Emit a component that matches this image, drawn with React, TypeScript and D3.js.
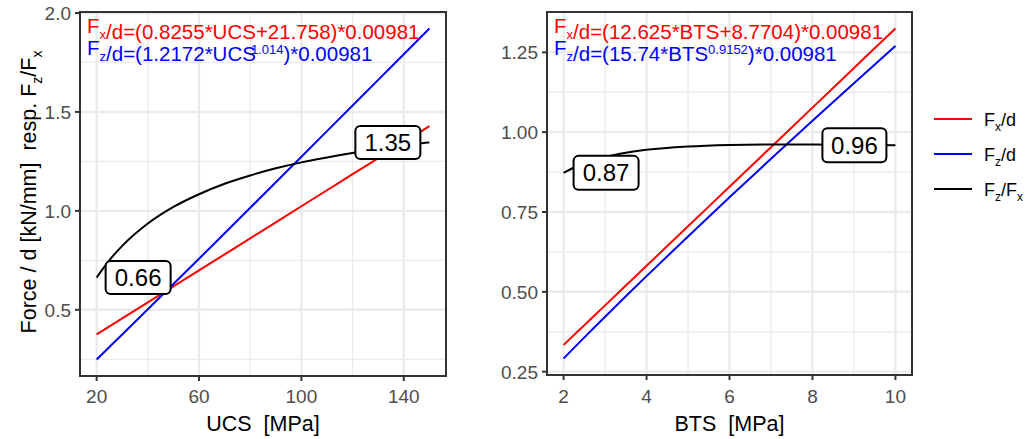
import React from 'react';
import * as d3 from 'd3';

// left panel: UCS
const ucs = [20, 25, 30, 40, 50, 60, 70, 80, 90, 100, 110, 120, 130, 140, 150];
const fxUcs = [0.3754, 0.4159, 0.4564, 0.5374, 0.6184, 0.6993, 0.7803, 0.8613, 0.9423, 1.0233, 1.1042, 1.1852, 1.2662, 1.3472, 1.4282];
const fzUcs = [0.2491, 0.3123, 0.3756, 0.503, 0.6307, 0.7582, 0.887, 1.0156, 1.1445, 1.2736, 1.4028, 1.5322, 1.6618, 1.7911, 1.9213];
const ratioUcs = [0.663, 0.751, 0.823, 0.936, 1.02, 1.084, 1.137, 1.179, 1.215, 1.245, 1.27, 1.293, 1.312, 1.33, 1.346];

// right panel: BTS
const bts = [2, 2.25, 2.5, 2.75, 3, 3.5, 4, 5, 6, 7, 8, 9, 10];
const fxBts = [0.3337, 0.3647, 0.3957, 0.4266, 0.4576, 0.5195, 0.5814, 0.7053, 0.8291, 0.953, 1.0768, 1.2007, 1.3246];
const fzBts = [0.2912, 0.3243, 0.3572, 0.3898, 0.422, 0.486, 0.5492, 0.6735, 0.7959, 0.9165, 1.0356, 1.1535, 1.2702];
const ratioBts = [0.8725, 0.8893, 0.9028, 0.9135, 0.9223, 0.9354, 0.9446, 0.9549, 0.9598, 0.9616, 0.9617, 0.9606, 0.959];

const ucsTicks = [20, 60, 100, 140];
const ucsMinor = [40, 80, 120];
const ucsYTicks = [0.5, 1.0, 1.5, 2.0];
const ucsYMinor = [0.25, 0.75, 1.25, 1.75];
const btsTicks = [2, 4, 6, 8, 10];
const btsMinor = [3, 5, 7, 9];
const btsYTicks = [0.25, 0.5, 0.75, 1.0, 1.25];
const btsYMinor = [0.375, 0.625, 0.875, 1.125];

const RED = '#FF0000';
const BLUE = '#0000FF';
const FONT = '"Liberation Sans", Arial, sans-serif';

type PanelProps = {
  x0: number; x1: number; y0: number; y1: number;
  xDom: [number, number]; yDom: [number, number];
  xs: number[]; fx: number[]; fz: number[]; ratio: number[];
  xTicks: number[]; xMinor: number[]; yTicks: number[]; yMinor: number[];
  yFmt: (v: number) => string; xTitle: string;
  eqX: React.ReactNode; eqZ: React.ReactNode;
  labStart: { dx: number; w: number; h: number };
  labEnd: { dx: number; w: number; h: number };
};

function Label({ x, y, w, h, text }: { x: number; y: number; w: number; h: number; text: string }) {
  return (
    <g>
      <rect x={x} y={y - h / 2} width={w} height={h} rx={5} fill="white" stroke="black" strokeWidth={2} />
      <text x={x + w / 2} y={y + 8.5} textAnchor="middle" fontSize={24} fill="black">{text}</text>
    </g>
  );
}

function Panel(p: PanelProps) {
  const x = d3.scaleLinear().domain(p.xDom).range([p.x0, p.x1]);
  const y = d3.scaleLinear().domain(p.yDom).range([p.y1, p.y0]);
  const mk = (vals: number[]) =>
    d3.line<number>().x((_, i) => x(p.xs[i])).y(v => y(v)).curve(d3.curveMonotoneX)(vals) || '';
  const n = p.xs.length - 1;
  const sx = x(p.xs[0]), sy = y(p.ratio[0]);
  const ex = x(p.xs[n]), ey = y(p.ratio[n]);
  return (
    <g>
      <defs>
        <clipPath id={`clip${p.x0}`}>
          <rect x={p.x0} y={p.y0} width={p.x1 - p.x0} height={p.y1 - p.y0} />
        </clipPath>
      </defs>
      <rect x={p.x0} y={p.y0} width={p.x1 - p.x0} height={p.y1 - p.y0} fill="white" />
      <g clipPath={`url(#clip${p.x0})`}>
        {p.xMinor.map(t => <line key={'xm' + t} x1={x(t)} x2={x(t)} y1={p.y0} y2={p.y1} stroke="#EBEBEB" strokeWidth={1.3} />)}
        {p.yMinor.map(t => <line key={'ym' + t} x1={p.x0} x2={p.x1} y1={y(t)} y2={y(t)} stroke="#EBEBEB" strokeWidth={1.3} />)}
        {p.xTicks.map(t => <line key={'x' + t} x1={x(t)} x2={x(t)} y1={p.y0} y2={p.y1} stroke="#EBEBEB" strokeWidth={2.4} />)}
        {p.yTicks.map(t => <line key={'y' + t} x1={p.x0} x2={p.x1} y1={y(t)} y2={y(t)} stroke="#EBEBEB" strokeWidth={2.4} />)}
        <path d={mk(p.fx)} fill="none" stroke={RED} strokeWidth={2} />
        <path d={mk(p.fz)} fill="none" stroke={BLUE} strokeWidth={2} />
        <path d={mk(p.ratio)} fill="none" stroke="black" strokeWidth={2} />
      </g>
      <Label x={sx + p.labStart.dx} y={sy} w={p.labStart.w} h={p.labStart.h} text={d3.format('.2f')(p.ratio[0])} />
      <Label x={ex - p.labEnd.dx - p.labEnd.w} y={ey} w={p.labEnd.w} h={p.labEnd.h} text={d3.format('.2f')(p.ratio[n])} />
      <text x={p.x0 + 7} y={33} fontSize={20.5} fill={RED}>{p.eqX}</text>
      <text x={p.x0 + 7} y={55} fontSize={20.5} fill={BLUE}>{p.eqZ}</text>
      <rect x={p.x0} y={p.y0} width={p.x1 - p.x0} height={p.y1 - p.y0} fill="none" stroke="#333333" strokeWidth={2} />
      {p.xTicks.map(t => (
        <g key={'xt' + t}>
          <line x1={x(t)} x2={x(t)} y1={p.y1 + 1} y2={p.y1 + 5} stroke="#333333" strokeWidth={2} />
          <text x={x(t)} y={403} textAnchor="middle" fontSize={19} fill="#4D4D4D">{t}</text>
        </g>
      ))}
      {p.yTicks.map(t => (
        <g key={'yt' + t}>
          <line x1={p.x0 - 5} x2={p.x0 - 1} y1={y(t)} y2={y(t)} stroke="#333333" strokeWidth={2} />
          <text x={p.x0 - 9} y={y(t) + 7} textAnchor="end" fontSize={19} fill="#4D4D4D">{p.yFmt(t)}</text>
        </g>
      ))}
      <text x={(p.x0 + p.x1) / 2} y={431} textAnchor="middle" fontSize={21.5} fill="black" style={{ whiteSpace: 'pre' }}>{p.xTitle}</text>
    </g>
  );
}

const Sub = ({ c }: { c: string }) => (
  <>
    <tspan dy={6} fontSize={13}>{c}</tspan>
    <tspan dy={-6}>{''}</tspan>
  </>
);

export default function App() {
  const legend = [
    { color: RED, sub: 'x', rest: '/d' },
    { color: BLUE, sub: 'z', rest: '/d' },
    { color: 'black', sub: 'z', rest: '/F' },
  ];
  return (
    <svg width={1030} height={439} style={{ position: 'absolute', left: 0, top: 0, fontFamily: FONT }}>
      <rect width={1030} height={439} fill="white" />
      <Panel
        x0={80} x1={446} y0={12} y1={376}
        xDom={[13.5, 156.5]} yDom={[0.1655, 2.005]}
        xs={ucs} fx={fxUcs} fz={fzUcs} ratio={ratioUcs}
        xTicks={ucsTicks} xMinor={ucsMinor} yTicks={ucsYTicks} yMinor={ucsYMinor}
        yFmt={d3.format('.1f')} xTitle="UCS  [MPa]"
        eqX={<>F<Sub c="x" />/d=(0.8255*UCS+21.758)*0.00981</>}
        eqZ={<>F<Sub c="z" />/d=(1.2172*UCS<tspan dx={-5} dy={-7} fontSize={13}>1.014</tspan><tspan dy={7}>)*0.00981</tspan></>}
        labStart={{ dx: 9, w: 65, h: 33 }} labEnd={{ dx: 9, w: 65, h: 33 }}
      />
      <Panel
        x0={547} x1={912} y0={12} y1={375}
        xDom={[1.6, 10.4]} yDom={[0.2395, 1.3763]}
        xs={bts} fx={fxBts} fz={fzBts} ratio={ratioBts}
        xTicks={btsTicks} xMinor={btsMinor} yTicks={btsYTicks} yMinor={btsYMinor}
        yFmt={d3.format('.2f')} xTitle="BTS  [MPa]"
        eqX={<>F<Sub c="x" />/d=(12.625*BTS+8.7704)*0.00981</>}
        eqZ={<>F<Sub c="z" />/d=(15.74*BTS<tspan dy={-7} fontSize={13}>0.9152</tspan><tspan dy={7}>)*0.00981</tspan></>}
        labStart={{ dx: 10, w: 65, h: 34 }} labEnd={{ dx: 9, w: 64, h: 34 }}
      />
      <text transform="translate(36,192) rotate(-90)" textAnchor="middle" fontSize={21.5} fill="black" style={{ whiteSpace: 'pre' }}>
        {'Force / d [kN/mm]  resp. F'}<tspan dy={6} fontSize={14}>z</tspan><tspan dy={-6}>/F</tspan><tspan dy={6} fontSize={14}>x</tspan>
      </text>
      {legend.map((l, i) => (
        <g key={i}>
          <line x1={934} x2={972} y1={119 + i * 35} y2={119 + i * 35} stroke={l.color} strokeWidth={2} />
          <text x={984} y={126 + i * 35} fontSize={18} fill="black">
            F<tspan dy={5} fontSize={12}>{l.sub}</tspan><tspan dy={-5}>{l.rest}</tspan>
            {i === 2 ? <tspan dy={5} fontSize={12}>x</tspan> : null}
          </text>
        </g>
      ))}
    </svg>
  );
}
